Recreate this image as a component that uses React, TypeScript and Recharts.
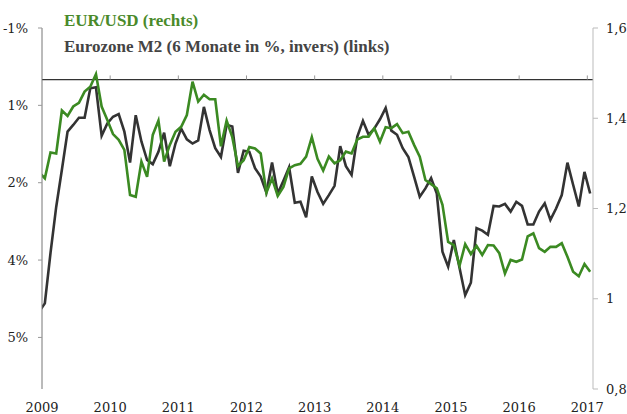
import React from "react";
import { LineChart, Line, XAxis, YAxis, ReferenceLine } from "recharts";

// Monthly values, Jan 2009 .. Feb 2017
const m2Growth: number[] = [
  4.5, 4.34, 3.36, 2.47, 1.75, 1.01, 0.88, 0.74, 0.74, 0.17, 0.15, 1.09,
  0.85, 0.72, 0.67, 1.01, 1.61, 0.69, 1.2, 1.56, 1.64, 1.4, 1.03, 1.68,
  1.24, 0.95, 1.16, 1.24, 1.18, 0.53, 0.98, 1.33, 1.5, 0.88, 0.91, 1.81,
  1.38, 1.4, 1.72, 1.88, 2.19, 1.61, 2.21, 1.96, 1.7, 2.39, 2.37, 2.67,
  1.88, 2.18, 2.41, 2.24, 2.06, 1.29, 1.68, 1.85, 1.11, 0.8, 1.07, 0.95,
  0.77, 0.55, 0.99, 1.07, 1.33, 1.5, 1.88, 2.27, 2.11, 1.91, 2.21, 3.34,
  3.63, 3.11, 3.65, 4.18, 3.94, 2.88, 2.93, 3.01, 2.45, 2.46, 2.41, 2.56,
  2.37, 2.45, 2.81, 2.81, 2.56, 2.4, 2.72, 2.5, 2.24, 1.61, 2.04, 2.46,
  1.79, 2.21,
];

const eurUsd: number[] = [
  1.28, 1.267, 1.324, 1.322, 1.417, 1.405, 1.426, 1.434, 1.459, 1.47, 1.498, 1.426,
  1.396, 1.365, 1.352, 1.33, 1.23, 1.226, 1.304, 1.27, 1.363, 1.395, 1.304, 1.341,
  1.37, 1.381, 1.407, 1.481, 1.437, 1.452, 1.442, 1.442, 1.338, 1.395, 1.358, 1.294,
  1.307, 1.336, 1.333, 1.322, 1.235, 1.267, 1.228, 1.248, 1.289, 1.296, 1.299, 1.315,
  1.358, 1.31, 1.284, 1.315, 1.3, 1.307, 1.326, 1.322, 1.353, 1.359, 1.359, 1.378,
  1.348, 1.38, 1.378, 1.387, 1.367, 1.37, 1.341, 1.315, 1.263, 1.254, 1.245, 1.208,
  1.126, 1.119, 1.073, 1.121, 1.099, 1.117, 1.097, 1.119, 1.118, 1.101, 1.056, 1.086,
  1.082, 1.087, 1.138, 1.145, 1.112, 1.104, 1.115, 1.115, 1.123, 1.093, 1.06, 1.05,
  1.077, 1.06,
];

const yearLabels: string[] = ["2009", "2010", "2011", "2012", "2013", "2014", "2015", "2016", "2017"];
const yearTicks: number[] = [0, 12, 24, 36, 48, 60, 72, 84, 96];

const leftTicks: number[] = [-1, 0.5, 2, 3.5, 5];
const leftLabels: string[] = ["-1%", "1%", "2%", "4%", "5%"];

const rightTicks: number[] = [0.8, 1, 1.2, 1.4, 1.6];
const rightLabels: string[] = ["0,8", "1", "1,2", "1,4", "1,6"];

const data = m2Growth.map((v, i) => ({ t: i - 0.5, m2: v, eur: eurUsd[i] }));

const GREEN = "#3b8a22";
const DARK = "#333333";
const FONT = "'DejaVu Serif', serif";
const TITLE_FONT = "'Liberation Serif', serif";

export default function App() {
  return (
    <div style={{ position: "absolute", left: 0, top: 0, width: 627, height: 414, background: "#fff" }}>
      <LineChart
        width={627}
        height={414}
        data={data}
        margin={{ top: 28, right: 0, bottom: 0, left: 0 }}
      >
        <XAxis
          dataKey="t"
          type="number"
          domain={[0, 97]}
          allowDataOverflow
          ticks={yearTicks}
          tickFormatter={(v: number) => yearLabels[yearTicks.indexOf(v)]}
          axisLine={false}
          tickLine={false}
          height={25}
          tickMargin={8}
          tick={{ fill: "#222", fontSize: 13, fontFamily: FONT }}
          interval={0}
        />
        <YAxis
          yAxisId="left"
          orientation="left"
          reversed
          type="number"
          domain={[-1, 6]}
          ticks={leftTicks}
          tickFormatter={(v: number) => leftLabels[leftTicks.indexOf(v)]}
          width={42}
          axisLine={{ stroke: "#777" }}
          tickLine={{ stroke: "#999" }}
          tickSize={4}
          tickMargin={10}
          tick={{ fill: "#222", fontSize: 13, fontFamily: FONT }}
          interval={0}
        />
        <YAxis
          yAxisId="right"
          orientation="right"
          type="number"
          domain={[0.8, 1.6]}
          ticks={rightTicks}
          tickFormatter={(v: number) => rightLabels[rightTicks.indexOf(v)]}
          width={34}
          axisLine={{ stroke: "#bbb" }}
          tickLine={{ stroke: "#bbb" }}
          tickSize={5}
          tickMargin={8}
          tick={{ fill: "#222", fontSize: 13, fontFamily: FONT, textAnchor: "start" }}
          interval={0}
        />
        <ReferenceLine yAxisId="left" y={0} stroke={DARK} strokeWidth={1.2} />
        {yearTicks.slice(1).map((t) => (
          <ReferenceLine
            key={t}
            yAxisId="left"
            segment={[
              { x: t, y: 0 },
              { x: t, y: -0.08 },
            ]}
            stroke="#999"
            strokeWidth={1}
          />
        ))}
        <Line
          yAxisId="left"
          dataKey="m2"
          stroke={DARK}
          strokeWidth={2.6}
          dot={false}
          isAnimationActive={false}
        />
        <Line
          yAxisId="right"
          dataKey="eur"
          stroke={GREEN}
          strokeWidth={2.6}
          dot={false}
          isAnimationActive={false}
        />
      </LineChart>
      <div
        style={{
          position: "absolute",
          left: 64,
          top: 11,
          fontFamily: TITLE_FONT,
          fontWeight: "bold",
          fontSize: 17,
          color: "#4a8a2a",
          whiteSpace: "nowrap",
          lineHeight: "20px",
        }}
      >
        EUR/USD (rechts)
      </div>
      <div
        style={{
          position: "absolute",
          left: 64,
          top: 37,
          fontFamily: TITLE_FONT,
          fontWeight: "bold",
          fontSize: 17,
          color: "#444",
          whiteSpace: "nowrap",
          lineHeight: "20px",
        }}
      >
        Eurozone M2 (6 Monate in %, invers) (links)
      </div>
    </div>
  );
}
